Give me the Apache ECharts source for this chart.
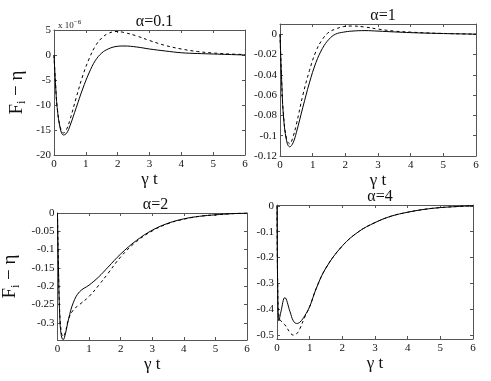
<!DOCTYPE html>
<html>
<head>
<meta charset="utf-8">
<script src="https://cdn.jsdelivr.net/npm/echarts@6/dist/echarts.min.js"></script>
<style>
  html, body { margin: 0; padding: 0; background: #fff; }
  #main { width: 491px; height: 381px; }
</style>
</head>
<body>
<div id="main"></div>
<script>
// time samples (gamma t) and curves
var t1 = [0, 0.05, 0.1, 0.2, 0.3, 0.4, 0.5, 0.7, 0.9, 1.1, 1.3, 1.5, 1.7, 1.95, 2.2, 2.6, 3.0, 3.5, 4.0, 4.5, 5.0, 5.5, 6.0];
// alpha = 0.1, in units of 1e-6
var a01Solid = [0, -6, -10.5, -14.8, -16, -15.6, -14.2, -10.5, -6.8, -3.6, -1.1, 0.4, 1.2, 1.7, 1.8, 1.6, 1.2, 0.8, 0.45, 0.3, 0.2, 0.1, 0];
var a01Dash  = [0, -6, -10.5, -14.5, -15.6, -14.8, -13, -8.5, -4.2, -0.8, 1.8, 3.4, 4.3, 4.7, 4.5, 3.8, 2.9, 1.9, 1.2, 0.7, 0.4, 0.2, 0.1];
// alpha = 1
var a1Solid = [0, -0.045, -0.078, -0.105, -0.111, -0.107, -0.097, -0.072, -0.048, -0.028, -0.014, -0.005, 0.0, 0.002, 0.003, 0.0035, 0.003, 0.0022, 0.0015, 0.001, 0.0006, 0.0003, 0];
var a1Dash  = [0, -0.045, -0.077, -0.103, -0.108, -0.101, -0.089, -0.06, -0.036, -0.017, -0.005, 0.002, 0.005, 0.0075, 0.008, 0.007, 0.005, 0.003, 0.002, 0.0012, 0.0007, 0.0003, 0];

var t2 = [0, 0.03, 0.07, 0.12, 0.18, 0.25, 0.35, 0.5, 0.7, 1.0, 1.3, 1.6, 2.0, 2.5, 3.0, 3.5, 4.0, 4.5, 5.0, 5.5, 6.0];
// alpha = 2
var a2Solid = [0, -0.15, -0.28, -0.335, -0.346, -0.33, -0.29, -0.245, -0.215, -0.197, -0.175, -0.148, -0.112, -0.075, -0.047, -0.028, -0.016, -0.009, -0.005, -0.002, 0];
var a2Dash  = [0, -0.15, -0.27, -0.325, -0.338, -0.325, -0.29, -0.265, -0.25, -0.228, -0.198, -0.165, -0.12, -0.078, -0.049, -0.029, -0.017, -0.009, -0.005, -0.002, 0];

var t3 = [0, 0.02, 0.06, 0.12, 0.24, 0.4, 0.5, 0.6, 0.7, 0.85, 1.0, 1.2, 1.5, 2.0, 2.5, 3.0, 3.5, 4.0, 4.5, 5.0, 5.5, 6.0];
// alpha = 4
var a4Solid = [0, -0.3, -0.445, -0.41, -0.355, -0.41, -0.445, -0.455, -0.45, -0.425, -0.39, -0.32, -0.24, -0.155, -0.1, -0.065, -0.04, -0.025, -0.014, -0.007, -0.003, 0];
var a4Dash  = [0, -0.3, -0.43, -0.445, -0.46, -0.49, -0.5, -0.495, -0.475, -0.43, -0.39, -0.32, -0.24, -0.155, -0.1, -0.065, -0.04, -0.025, -0.014, -0.007, -0.003, 0];

var xTicks = [0, 1, 2, 3, 4, 5, 6];
var titles = ['\u03b1=0.1', '\u03b1=1', '\u03b1=2', '\u03b1=4'];
var yTicks = [
  [-20, -15, -10, -5, 0, 5],
  [-0.12, -0.1, -0.08, -0.06, -0.04, -0.02, 0],
  [-0.3, -0.25, -0.2, -0.15, -0.1, -0.05, 0],
  [-0.5, -0.4, -0.3, -0.2, -0.1, 0]
];
var yRange = [[-20, 5], [-0.12, 0.01], [-0.347, 0], [-0.515, 0.003]];

var grids = [
  { left: 54, top: 30, width: 191, height: 125 },
  { left: 280, top: 24, width: 196, height: 132 },
  { left: 54, top: 213, width: 193, height: 127 },
  { left: 277, top: 205, width: 196, height: 134 }
];

var font = 'Liberation Serif';
var axisColor = '#555';

function pair(t, y) {
  return t.map(function (v, i) { return [v, y[i]]; });
}

var xAxes = [], yAxes = [], series = [], titleList = [];
grids.forEach(function (g, i) {
  // bottom + mirrored top x axis
  xAxes.push({
    gridIndex: i, type: 'value', min: 0, max: 6,
    axisLine: { onZero: false, lineStyle: { color: axisColor, width: 1 } },
    axisTick: { inside: true, length: 3, customValues: xTicks, lineStyle: { color: axisColor } },
    axisLabel: { customValues: xTicks, fontFamily: font, fontSize: 11, color: '#111', margin: 4 },
    splitLine: { show: false },
    name: '\u03b3 t', nameLocation: 'middle', nameGap: 15,
    nameTextStyle: { fontFamily: font, fontSize: 17, color: '#111' }
  });
  xAxes.push({
    gridIndex: i, type: 'value', min: 0, max: 6, position: 'top',
    axisLine: { onZero: false, lineStyle: { color: axisColor, width: 1 } },
    axisTick: { inside: true, length: 3, customValues: xTicks, lineStyle: { color: axisColor } },
    axisLabel: { show: false }, splitLine: { show: false }
  });
  var yl = {
    gridIndex: i, type: 'value', min: yRange[i][0], max: yRange[i][1],
    axisLine: { show: true, onZero: false, lineStyle: { color: axisColor, width: 1 } },
    axisTick: { show: true, inside: true, length: 3, customValues: yTicks[i], lineStyle: { color: axisColor } },
    axisLabel: { customValues: yTicks[i], fontFamily: font, fontSize: 11, color: '#111', margin: 3 },
    splitLine: { show: false }
  };
  if (i === 0 || i === 2) {
    yl.name = '{f|F}{s|i}{f| \u2212 \u03b7}';
    yl.nameLocation = 'middle';
    yl.nameRotate = 90;
    yl.nameGap = i === 0 ? 26 : 36;
    yl.nameTextStyle = {
      rich: {
        f: { fontFamily: font, fontSize: 19, color: '#111' },
        s: { fontFamily: font, fontSize: 12, color: '#111', padding: [10, 0, 0, 0] }
      }
    };
  }
  yAxes.push(yl);
  yAxes.push({
    gridIndex: i, type: 'value', min: yRange[i][0], max: yRange[i][1], position: 'right',
    axisLine: { show: true, onZero: false, lineStyle: { color: axisColor, width: 1 } },
    axisTick: { show: true, inside: true, length: 3, customValues: yTicks[i], lineStyle: { color: axisColor } },
    axisLabel: { show: false }, splitLine: { show: false }
  });
  titleList.push({
    text: titles[i], left: g.left + g.width / 2, top: g.top - 21, textAlign: 'center',
    textStyle: { fontFamily: font, fontSize: 16, fontWeight: 'normal', color: '#111' }
  });
});

var curves = [
  [t1, a01Solid, 'solid', 0], [t1, a01Dash, 'dashed', 0],
  [t1, a1Solid, 'solid', 1], [t1, a1Dash, 'dashed', 1],
  [t2, a2Solid, 'solid', 2], [t2, a2Dash, 'dashed', 2],
  [t3, a4Solid, 'solid', 3], [t3, a4Dash, 'dashed', 3]
];
curves.forEach(function (c) {
  series.push({
    type: 'line', xAxisIndex: c[3] * 2, yAxisIndex: c[3] * 2,
    data: pair(c[0], c[1]), showSymbol: false, smooth: 0.4,
    lineStyle: { color: '#000', width: 1, type: c[2] === 'dashed' ? [3, 3] : 'solid' },
    animation: false, silent: true
  });
});

var chart = echarts.init(document.getElementById('main'));
chart.setOption({
  animation: false,
  title: titleList,
  grid: grids,
  xAxis: xAxes,
  yAxis: yAxes,
  series: series,
  graphic: [{
    type: 'text', left: 58, top: 19,
    style: {
      text: 'x 10{sup|\u22126}', fontFamily: font, fontSize: 9, fill: '#222',
      rich: { sup: { fontSize: 7, fontFamily: font, padding: [0, 0, 6, 0], fill: '#222' } }
    }
  }]
});
</script>
</body>
</html>
